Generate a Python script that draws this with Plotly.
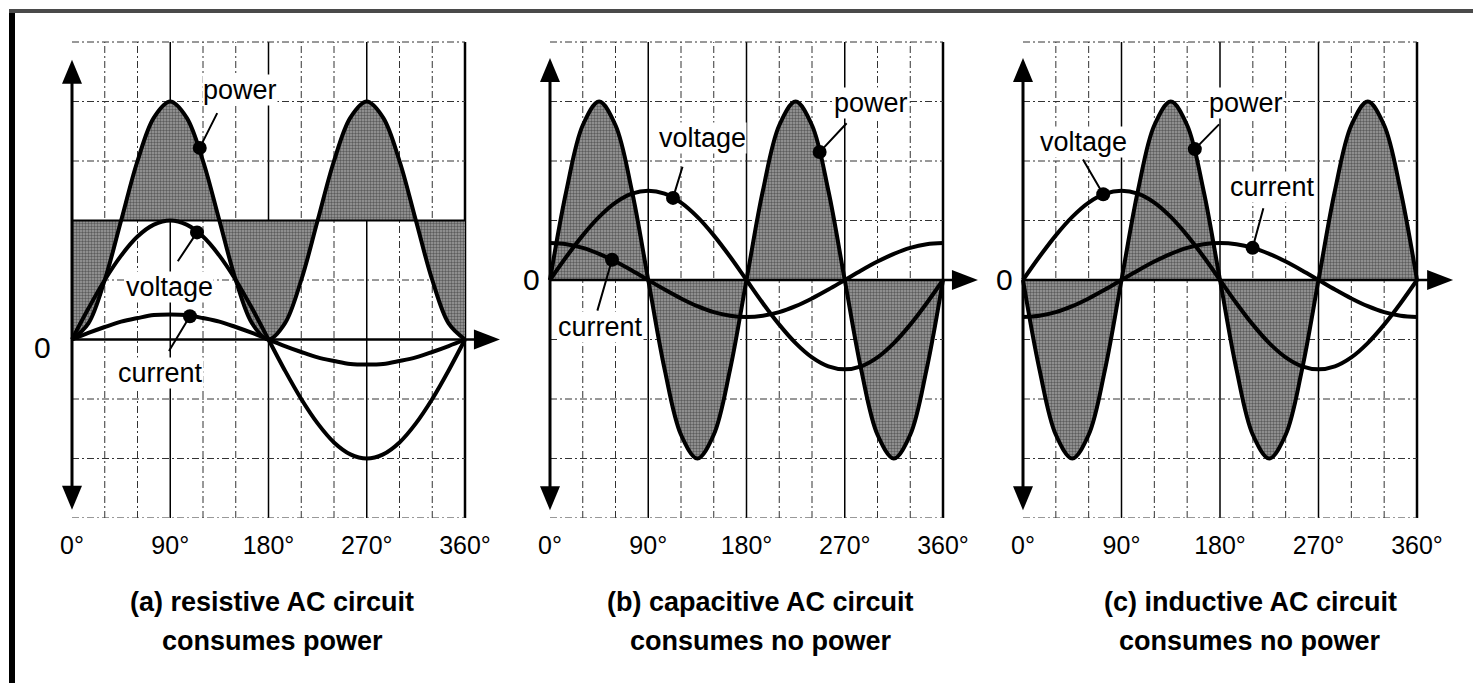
import plotly.graph_objects as go

# ---------------- data ----------------
angles = [0, 15, 30, 45, 60, 75, 90, 105, 120, 135, 150, 165, 180,
          195, 210, 225, 240, 255, 270, 285, 300, 315, 330, 345, 360]

# (a) resistive circuit
a_voltage = [0, 0.52, 1.0, 1.41, 1.73, 1.93, 2.0, 1.93, 1.73, 1.41, 1.0, 0.52, 0,
             -0.52, -1.0, -1.41, -1.73, -1.93, -2.0, -1.93, -1.73, -1.41, -1.0, -0.52, 0]
a_current = [0, 0.11, 0.21, 0.3, 0.36, 0.41, 0.42, 0.41, 0.36, 0.3, 0.21, 0.11, 0,
             -0.11, -0.21, -0.3, -0.36, -0.41, -0.42, -0.41, -0.36, -0.3, -0.21, -0.11, 0]
a_power = [0, 0.27, 1.0, 2.0, 3.0, 3.73, 4.0, 3.73, 3.0, 2.0, 1.0, 0.27, 0,
           0.27, 1.0, 2.0, 3.0, 3.73, 4.0, 3.73, 3.0, 2.0, 1.0, 0.27, 0]
a_avg_angles = [0, 360]
a_avg_power = [2, 2]

# (b) capacitive circuit
b_voltage = [0, 0.39, 0.75, 1.06, 1.3, 1.45, 1.5, 1.45, 1.3, 1.06, 0.75, 0.39, 0,
             -0.39, -0.75, -1.06, -1.3, -1.45, -1.5, -1.45, -1.3, -1.06, -0.75, -0.39, 0]
b_current = [0.62, 0.6, 0.54, 0.44, 0.31, 0.16, 0, -0.16, -0.31, -0.44, -0.54, -0.6, -0.62,
             -0.6, -0.54, -0.44, -0.31, -0.16, 0, 0.16, 0.31, 0.44, 0.54, 0.6, 0.62]
b_power = [0, 1.5, 2.6, 3.0, 2.6, 1.5, 0, -1.5, -2.6, -3.0, -2.6, -1.5, 0,
           1.5, 2.6, 3.0, 2.6, 1.5, 0, -1.5, -2.6, -3.0, -2.6, -1.5, 0]

# (c) inductive circuit
c_voltage = [0, 0.39, 0.75, 1.06, 1.3, 1.45, 1.5, 1.45, 1.3, 1.06, 0.75, 0.39, 0,
             -0.39, -0.75, -1.06, -1.3, -1.45, -1.5, -1.45, -1.3, -1.06, -0.75, -0.39, 0]
c_current = [-0.62, -0.6, -0.54, -0.44, -0.31, -0.16, 0, 0.16, 0.31, 0.44, 0.54, 0.6, 0.62,
             0.6, 0.54, 0.44, 0.31, 0.16, 0, -0.16, -0.31, -0.44, -0.54, -0.6, -0.62]
c_power = [0, -1.5, -2.6, -3.0, -2.6, -1.5, 0, 1.5, 2.6, 3.0, 2.6, 1.5, 0,
           -1.5, -2.6, -3.0, -2.6, -1.5, 0, 1.5, 2.6, 3.0, 2.6, 1.5, 0]

tick_vals = [0, 90, 180, 270, 360]
tick_text = ["0°", "90°", "180°", "270°", "360°"]

label_names = ["power", "voltage", "current"]
# points on the curves marked with a dot (angle, value), order as label_names
a_dot_angles = [117, 114.5, 108]
a_dot_values = [3.22, 1.8, 0.39]
b_dot_angles = [247, 112.7, 56.8]
b_dot_values = [2.15, 1.38, 0.34]
c_dot_angles = [157, 73.3, 209.8]
c_dot_values = [2.2, 1.44, 0.54]

captions_line1 = ["(a) resistive AC circuit", "(b) capacitive AC circuit", "(c) inductive AC circuit"]
captions_line2 = ["consumes power", "consumes no power", "consumes no power"]

# ---------------- layout geometry / styling ----------------
W, H = 1473, 683
UNIT_PX = 59.5
DOM_TOP_PX, DOM_BOT_PX = 30, 518
LABEL_FONT = "Liberation Sans, Arial, Helvetica, sans-serif"

panels = [
    dict(x0=72, x360=465, dom=(15, 505), ybot=-3, ytop=5, ytip_top=4.7, ytip_bot=-2.86, xtip=392,
         zero_lbl=(-27, -0.13),
         text_pos=[(154, 4.2), (89, 0.89), (81.5, -0.57)],
         tails=[(133.7, 3.83), (96, 1.29), (88, -0.22)],
         cap_x=272),
    dict(x0=550, x360=943, dom=(515, 985), ybot=-4, ytop=4, ytip_top=3.73, ytip_bot=-3.87, xtip=392,
         zero_lbl=(-17.4, 0),
         text_pos=[(294, 2.97), (140, 2.39), (46.7, -0.79)],
         tails=[(273, 2.66), (121.8, 1.93), (43, -0.54)],
         cap_x=761),
    dict(x0=1023, x360=1417, dom=(990, 1465), ybot=-4, ytop=4, ytip_top=3.73, ytip_bot=-3.87, xtip=393,
         zero_lbl=(-16.5, 0),
         text_pos=[(204, 2.97), (55, 2.32), (228, 1.56)],
         tails=[(180.5, 2.64), (54, 2.05), (220, 1.23)],
         cap_x=1250),
]

series = [
    dict(v=a_voltage, i=a_current, p=a_power, dx=a_dot_angles, dy=a_dot_values),
    dict(v=b_voltage, i=b_current, p=b_power, dx=b_dot_angles, dy=b_dot_values),
    dict(v=c_voltage, i=c_current, p=c_power, dx=c_dot_angles, dy=c_dot_values),
]

fig = go.Figure()
shapes = []
annotations = []

stipple = dict(shape=".", fgcolor="#1a1a1a", bgcolor="#9e9e9e", size=3, solidity=0.5)
curve_line = dict(color="black", width=4, shape="spline", smoothing=1.0)

for k, (pn, s) in enumerate(zip(panels, series)):
    xa = "x" if k == 0 else f"x{k+1}"
    ya = "y" if k == 0 else f"y{k+1}"
    deg_per_px = 360.0 / (pn["x360"] - pn["x0"])
    xr = [(pn["dom"][0] - pn["x0"]) * deg_per_px, (pn["dom"][1] - pn["x0"]) * deg_per_px]
    yr = [pn["ybot"], pn["ybot"] + (DOM_BOT_PX - DOM_TOP_PX) / UNIT_PX]

    # ---- grid (below the curves)
    for g in range(30, 361, 30):
        solid = g % 90 == 0
        shapes.append(dict(type="line", xref=xa, yref=ya, x0=g, x1=g, y0=pn["ybot"], y1=pn["ytop"],
                           layer="below",
                           line=dict(color="black" if solid else "#333",
                                     width=(2.5 if g == 360 else 1.5) if solid else 1,
                                     dash="solid" if solid else "7px,3px,2px,3px")))
    for h in range(pn["ybot"], pn["ytop"] + 1):
        if h == 0:
            continue
        shapes.append(dict(type="line", xref=xa, yref=ya, x0=0, x1=360, y0=h, y1=h, layer="below",
                           line=dict(color="#333", width=1, dash="7px,3px,2px,3px")))

    # ---- shaded power
    if k == 0:
        fig.add_trace(go.Scatter(x=a_avg_angles, y=a_avg_power, mode="lines", xaxis=xa, yaxis=ya,
                                 line=dict(color="black", width=2), showlegend=False, hoverinfo="skip"))
        fig.add_trace(go.Scatter(x=angles, y=s["p"], mode="lines", xaxis=xa, yaxis=ya, fill="tonexty",
                                 fillpattern=stipple, fillcolor="#9e9e9e", line=curve_line,
                                 showlegend=False, name="power"))
    else:
        fig.add_trace(go.Scatter(x=angles, y=s["p"], mode="lines", xaxis=xa, yaxis=ya, fill="tozeroy",
                                 fillpattern=stipple, fillcolor="#9e9e9e", line=curve_line,
                                 showlegend=False, name="power"))
    fig.add_trace(go.Scatter(x=angles, y=s["v"], mode="lines", xaxis=xa, yaxis=ya, line=curve_line,
                             showlegend=False, name="voltage"))
    fig.add_trace(go.Scatter(x=angles, y=s["i"], mode="lines", xaxis=xa, yaxis=ya, line=curve_line,
                             showlegend=False, name="current"))
    fig.add_trace(go.Scatter(x=s["dx"], y=s["dy"], mode="markers", xaxis=xa, yaxis=ya,
                             marker=dict(color="black", size=14), showlegend=False, hoverinfo="skip"))

    # ---- axes with arrows
    shapes.append(dict(type="line", xref=xa, yref=ya, x0=0, x1=0, y0=pn["ytip_bot"] + 0.2,
                       y1=pn["ytip_top"] - 0.2, layer="above", line=dict(color="black", width=3)))
    shapes.append(dict(type="line", xref=xa, yref=ya, x0=0, x1=pn["xtip"] - 10, y0=0, y1=0,
                       layer="above", line=dict(color="black", width=2.5)))
    shapes.append(dict(type="path", xref=xa, yref=ya, xsizemode="pixel", ysizemode="pixel",
                       xanchor=0, yanchor=pn["ytip_top"], path="M -10 -24 L 10 -24 L 0 0 Z",
                       fillcolor="black", line=dict(width=0), layer="above"))
    shapes.append(dict(type="path", xref=xa, yref=ya, xsizemode="pixel", ysizemode="pixel",
                       xanchor=0, yanchor=pn["ytip_bot"], path="M -10 24 L 10 24 L 0 0 Z",
                       fillcolor="black", line=dict(width=0), layer="above"))
    shapes.append(dict(type="path", xref=xa, yref=ya, xsizemode="pixel", ysizemode="pixel",
                       xanchor=pn["xtip"], yanchor=0, path="M -26 -10 L -26 10 L 0 0 Z",
                       fillcolor="black", line=dict(width=0), layer="above"))

    # ---- "0" label
    annotations.append(dict(xref=xa, yref=ya, x=pn["zero_lbl"][0], y=pn["zero_lbl"][1], text="0",
                            showarrow=False, xanchor="center", yanchor="middle",
                            font=dict(family=LABEL_FONT, size=30, color="black")))

    # ---- curve labels with leader lines
    for j, name in enumerate(label_names):
        tx, ty = pn["text_pos"][j]
        annotations.append(dict(xref=xa, yref=ya, x=tx, y=ty, text=name, showarrow=False,
                                xanchor="center", yanchor="middle",
                                bgcolor="white", borderpad=0,
                                font=dict(family=LABEL_FONT, size=27, color="black")))
        annotations.append(dict(xref=xa, yref=ya, x=s["dx"][j], y=s["dy"][j], axref=xa, ayref=ya,
                                ax=pn["tails"][j][0], ay=pn["tails"][j][1], text="", showarrow=True,
                                arrowhead=0, arrowwidth=2, arrowcolor="black"))

    # ---- captions
    annotations.append(dict(xref="paper", yref="paper", x=pn["cap_x"] / W, y=(H - 602) / H,
                            xanchor="center", yanchor="middle",
                            text=f"<b>{captions_line1[k]}</b>", showarrow=False,
                            font=dict(family=LABEL_FONT, size=27, color="black")))
    annotations.append(dict(xref="paper", yref="paper", x=pn["cap_x"] / W, y=(H - 641) / H,
                            xanchor="center", yanchor="middle",
                            text=f"<b>{captions_line2[k]}</b>", showarrow=False,
                            font=dict(family=LABEL_FONT, size=27, color="black")))

    axis_x = dict(domain=[pn["dom"][0] / W, pn["dom"][1] / W], range=xr, anchor=ya,
                  showgrid=False, zeroline=False, showline=False, ticks="",
                  tickmode="array", tickvals=tick_vals, ticktext=tick_text,
                  tickfont=dict(family=LABEL_FONT, size=25, color="black"),
                  ticklabelstandoff=10, fixedrange=True)
    axis_y = dict(domain=[(H - DOM_BOT_PX) / H, (H - DOM_TOP_PX) / H], range=yr, anchor=xa,
                  showgrid=False, zeroline=False, showline=False, showticklabels=False,
                  ticks="", fixedrange=True)
    key = "" if k == 0 else str(k + 1)
    fig.update_layout(**{f"xaxis{key}": axis_x, f"yaxis{key}": axis_y})

# ---- scanned page frame
shapes.append(dict(type="line", xref="paper", yref="paper", x0=12 / W, x1=12 / W, y0=0, y1=(H - 10) / H,
                   line=dict(color="black", width=6)))
shapes.append(dict(type="line", xref="paper", yref="paper", x0=9 / W, x1=1, y0=(H - 11) / H, y1=(H - 11) / H,
                   line=dict(color="#4a4a4a", width=4)))

fig.update_layout(width=W, height=H, margin=dict(l=0, r=0, t=0, b=0),
                  paper_bgcolor="white", plot_bgcolor="white",
                  shapes=shapes, annotations=annotations, showlegend=False)

fig.write_html("out.html", config={"displayModeBar": False},
               post_script="document.body.style.margin='0';document.body.style.overflow='hidden';")
